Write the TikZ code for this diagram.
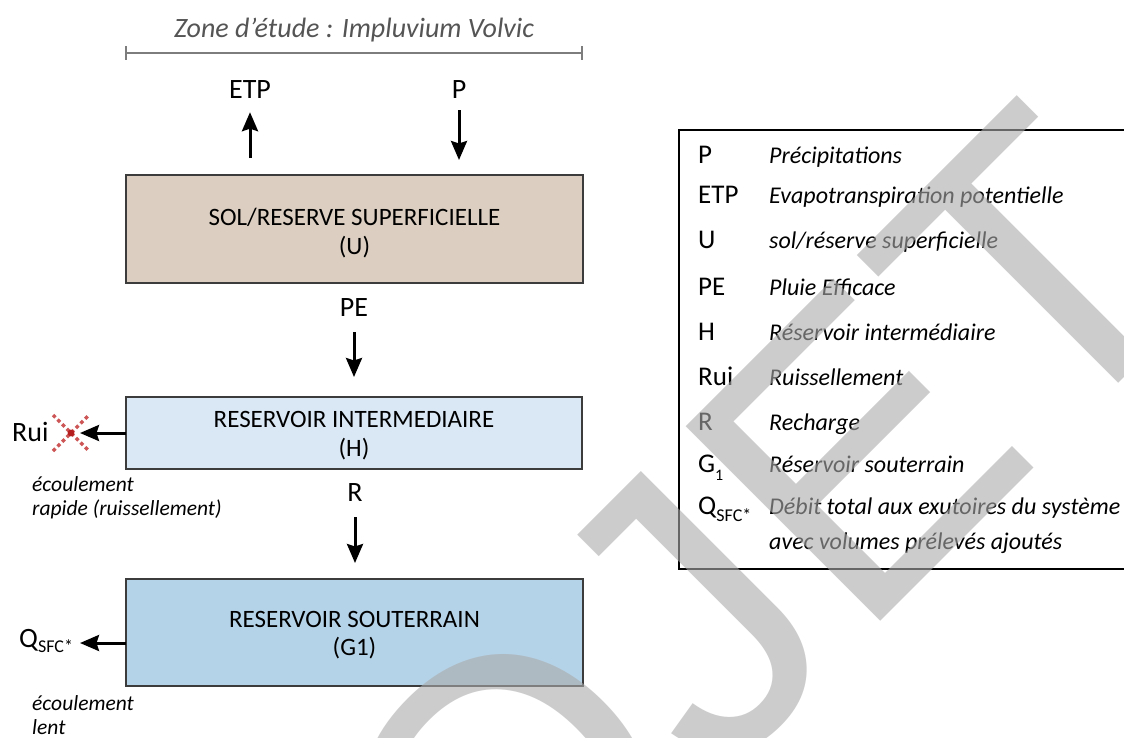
\documentclass[tikz,border=0pt]{standalone}
\usepackage{fontspec}
\setmainfont{Carlito}
\newfontfamily\wmfont{Liberation Sans}[Kerning=Off]
\usetikzlibrary{arrows.meta}
\definecolor{boxU}{RGB}{220,207,194}
\definecolor{boxH}{RGB}{218,232,245}
\definecolor{boxG}{RGB}{181,211,232}
\definecolor{bord}{RGB}{60,60,60}
\definecolor{ttl}{RGB}{85,85,85}
\definecolor{brk}{RGB}{125,125,125}
\definecolor{wm}{RGB}{170,170,170}
\definecolor{xlight}{RGB}{205,85,85}
\definecolor{xdark}{RGB}{180,30,30}
\begin{document}
\begin{tikzpicture}[x=1pt,y=-1pt,
  box/.style={draw=bord, line width=1.5pt, inner sep=0pt, outer sep=0pt},
  lbl/.style={inner sep=0pt, anchor=base, font=\fontsize{28}{28}\selectfont},
  boxtxt/.style={inner sep=0pt, anchor=base, font=\fontsize{25}{25}\selectfont},
  note/.style={inner sep=0pt, anchor=base west, font=\itshape\fontsize{21.5}{21.5}\selectfont},
  legsym/.style={inner sep=0pt, anchor=base west, font=\fontsize{27}{27}\selectfont},
  legdesc/.style={inner sep=0pt, anchor=base west, font=\itshape\fontsize{24}{24}\selectfont},
  arr/.style={line width=3pt, -{Stealth[length=19pt,width=16pt,inset=2.5pt]}},
  xdots/.style={xlight, line width=3.5pt, dash pattern=on 3.5pt off 3pt},
]
\useasboundingbox (0,0) rectangle (1124,737);
\fill[white] (0,0) rectangle (1124,737);

% title and bracket
\node[inner sep=0pt, anchor=base, text=ttl, font=\itshape\fontsize{28}{28}\selectfont] (title) at (354,37) {Zone d’étude : Impluvium Volvic};
\coordinate (bl) at (126,53);
\coordinate (br) at (582,53);
\draw[brk, line width=2.2pt] (bl) -- (br);
\draw[brk, line width=2pt] ([yshift=7pt]bl) -- ([yshift=-7pt]bl);
\draw[brk, line width=2pt] ([yshift=7pt]br) -- ([yshift=-7pt]br);

% boxes
\node[box, fill=boxU, minimum width=457pt, minimum height=108pt] (U) at (354.5,229) {};
\node[box, fill=boxH, minimum width=456pt, minimum height=72pt] (H) at (354,433) {};
\node[box, fill=boxG, minimum width=457pt, minimum height=107pt] (G) at (354.5,632.5) {};

\node[boxtxt] (Ut1) at (354.5,225) {SOL/RESERVE SUPERFICIELLE};
\node[boxtxt] (Ut2) at (354.5,254) {(U)};
\node[boxtxt] (Ht1) at (354,427) {RESERVOIR INTERMEDIAIRE};
\node[boxtxt] (Ht2) at (354,456) {(H)};
\node[boxtxt] (Gt1) at (354.5,627) {RESERVOIR SOUTERRAIN};
\node[boxtxt] (Gt2) at (354.5,655) {(G1)};

% flux labels
\node[lbl] (ETP) at (250,98) {ETP};
\node[lbl] (P) at (459,98) {P};
\node[lbl] (PE) at (354,316) {PE};
\node[lbl] (R) at (355,501) {R};
\node[lbl, anchor=base west] (Rui) at (12,441) {Rui};
\node[lbl, anchor=base west] (Q) at (19,647) {Q\raisebox{-5pt}{\fontsize{18}{18}\selectfont SFC*}};

% arrows
\draw[arr, shorten <=17pt, shorten >=14pt] (U.north -| ETP.south) -- (ETP.south);
\draw[arr, shorten <=12pt, shorten >=15pt] (P.south) -- (P.south |- U.north);
\draw[arr, shorten <=16pt, shorten >=20pt] (PE.south) -- (PE.south |- H.north);
\draw[arr, shorten <=16pt, shorten >=16pt] (R.south) -- (R.south |- G.north);

% Rui crossed outlet
\coordinate (xm) at (71,433);
\draw[xdots] ([shift={(-18pt,18pt)}]xm) -- ([shift={(18pt,-18pt)}]xm);
\draw[xdots] ([shift={(-18pt,-18pt)}]xm) -- ([shift={(18pt,18pt)}]xm);
\fill[xdark] (xm) circle (3.4pt);
\draw[arr, shorten >=9pt] (H.west) -- (xm);

\coordinate (qtip) at (80,643);
\draw[arr] (H.west |- qtip) -- (qtip);

% notes
\node[note] (n1) at (32,491) {écoulement};
\node[note] (n2) at (32,515) {rapide (ruissellement)};
\node[note] (n3) at (32,710) {écoulement};
\node[note] (n4) at (32,734) {lent};

% legend
\node[draw=black, line width=1.8pt, inner sep=0pt, minimum width=460pt, minimum height=439pt, anchor=north west] (leg) at (678,129) {};
\node[legsym] (s1) at (698,163) {P};
\node[legdesc] (d1) at (769,163) {Précipitations};
\node[legsym] (s2) at (698,203) {ETP};
\node[legdesc] (d2) at (769,203) {Evapotranspiration potentielle};
\node[legsym] (s3) at (698,248) {U};
\node[legdesc] (d3) at (769,248) {sol/réserve superficielle};
\node[legsym] (s4) at (698,295) {PE};
\node[legdesc] (d4) at (769,295) {Pluie Efficace};
\node[legsym] (s5) at (698,340) {H};
\node[legdesc] (d5) at (769,340) {Réservoir intermédiaire};
\node[legsym] (s6) at (698,385) {Rui};
\node[legdesc] (d6) at (769,385) {Ruissellement};
\node[legsym] (s7) at (698,430) {R};
\node[legdesc] (d7) at (769,430) {Recharge};
\node[legsym] (s8) at (698,472) {G\raisebox{-8pt}{\fontsize{16}{16}\selectfont 1}};
\node[legdesc] (d8) at (769,472) {Réservoir souterrain};
\node[legsym] (s9) at (698,514) {Q\raisebox{-7pt}{\fontsize{18}{18}\selectfont SFC*}};
\node[legdesc] (d9) at (769,514) {Débit total aux exutoires du système};
\node[legdesc] (d10) at (769,549) {avec volumes prélevés ajoutés};

% watermark
\begin{scope}
\clip (0,0) rectangle (1124,737);
\node[anchor=base west, inner sep=0pt, outer sep=0pt, rotate=45, text=wm, text opacity=0.6, font=\wmfont\fontsize{400}{400}\selectfont] (wmk) at (103,1399) {PROJET};
\end{scope}
\end{tikzpicture}
\end{document}
